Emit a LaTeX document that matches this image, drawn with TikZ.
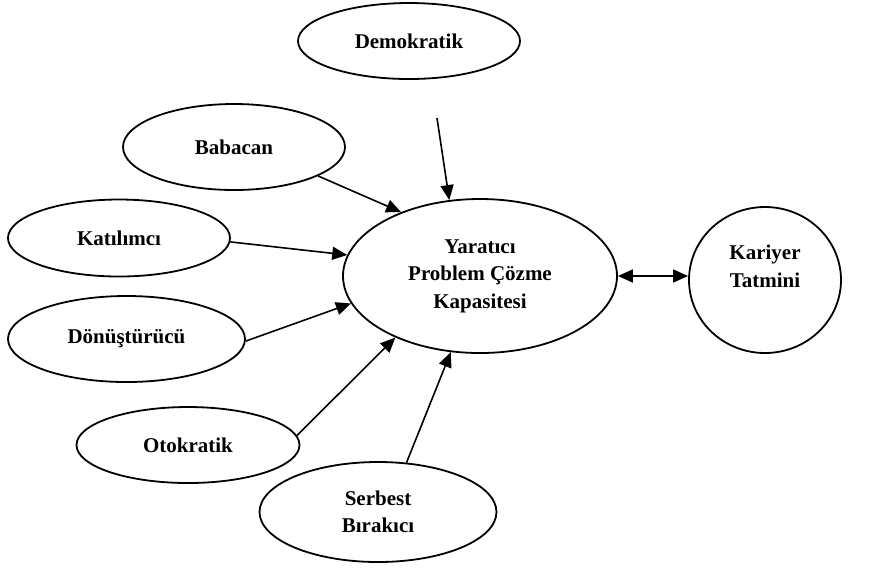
\documentclass[tikz,border=0pt]{standalone}
\usepackage{fontspec}
\setmainfont{Liberation Serif}
\usetikzlibrary{shapes.geometric,arrows.meta}

\begin{document}
\begin{tikzpicture}[x=0.5pt,y=-0.5pt,
    oval/.style={draw,ellipse,line width=0.9pt,inner sep=0pt,align=center,
      font=\fontsize{10.5}{13.8}\selectfont\bfseries},
    etki/.style={line width=0.8pt,-{Triangle[length=7.5pt,width=6.5pt]}},
    karsilikli/.style={line width=0.8pt,{Triangle[length=7.5pt,width=6.5pt]}-{Triangle[length=7.5pt,width=6.5pt]}}]
  \useasboundingbox (0,0) rectangle (894,570);

  \node[oval,minimum width=111pt,minimum height=38pt] (demokratik) at (409,41) {Demokratik};
  \node[oval,minimum width=111pt,minimum height=43pt] (babacan) at (234,147) {Babacan};
  \node[oval,minimum width=111pt,minimum height=38.5pt] (katilimci) at (119,238) {Katılımcı};
  \node[oval,minimum width=118.5pt,minimum height=43pt] (donusturucu) at (126.5,339) {Dönüştürücü};
  \node[oval,minimum width=111.5pt,minimum height=38pt] (otokratik) at (188,445) {Otokratik};
  \node[oval,minimum width=118.5pt,minimum height=50pt] (serbest) at (378,512) {Serbest\\Bırakıcı};
  \node[oval,minimum width=137pt,minimum height=77pt] (yaratici) at (480,276) {Yaratıcı\\Problem Çözme\\Kapasitesi};
  \node[oval,minimum width=76pt,minimum height=73pt] (kariyer) at (765,280) {Kariyer\\Tatmini\\~};

  \coordinate (demokratikok) at (437,118);

  \draw[etki] (demokratikok) -- (yaratici.112);
  \draw[etki] (babacan.-19) -- (yaratici.141);
  \draw[etki] (katilimci.-2) -- (yaratici.171);
  \draw[etki] (donusturucu.-1) -- (yaratici.192);
  \draw[etki] (otokratik.5) -- (yaratici.216);
  \draw[etki] (serbest.60) -- (yaratici.249);
  \draw[karsilikli] (yaratici.east) -- (yaratici.east -| kariyer.west);
\end{tikzpicture}
\end{document}
